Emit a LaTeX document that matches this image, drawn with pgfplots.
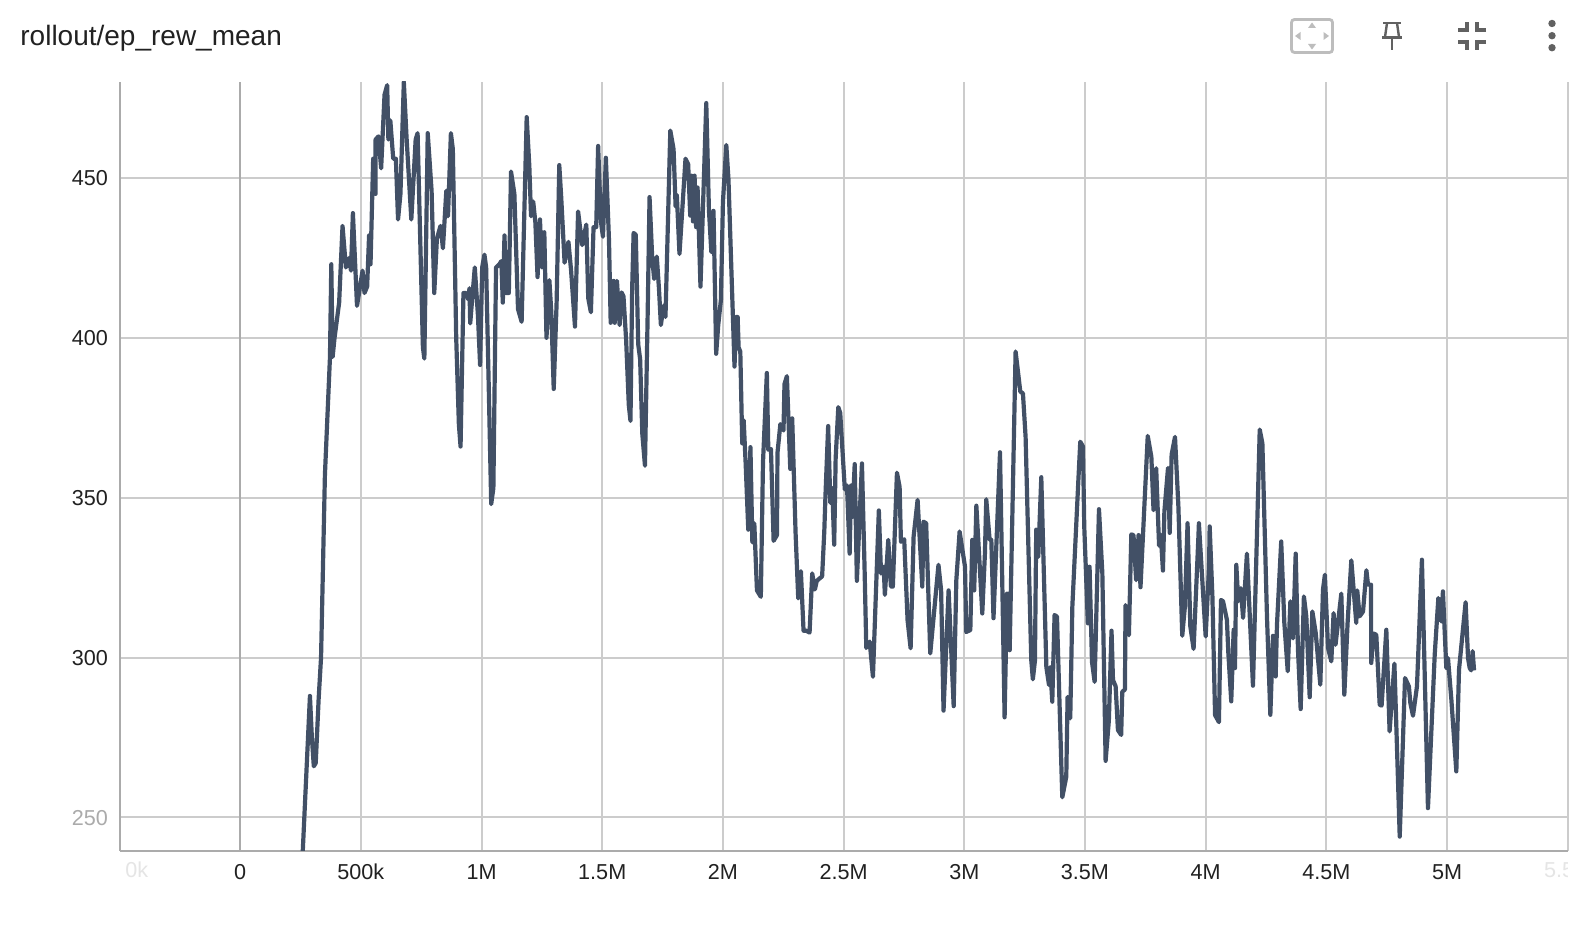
\documentclass[border=0pt]{standalone}
\usepackage{fontspec}
\setmainfont{Liberation Sans}
\usepackage{pgfplots}
\usepackage{pgfplotstable}
\pgfplotsset{compat=1.18}
\definecolor{linecol}{HTML}{425066}
\definecolor{gridcol}{HTML}{CCCCCC}
\definecolor{axiscol}{HTML}{ABABAB}
\definecolor{iconcol}{HTML}{616161}
\definecolor{fitcol}{HTML}{BDBDBD}
\definecolor{txtcol}{HTML}{212121}
\pgfplotstableread{
x y
259 239
289 288
297 275
305 266
313 267
325 287
335 300
351 357
372 394
377.5 423
383 394
391 400
410 411
424 435
438 422
452 425
459 421
467 439
484 410
507 421
515 414
526 416
534 432
540 423
551 456
561 445
561 462
573 463
584 453
598 476
609 479
614 462
622 468
634 456
645 456
654 437
664 445
678 480
689 463
709 437
727 462
735 464
757 397
763 393.5
777 464
793 446
804 414
815 431
830 435
840 428
854 446
861 438
873 464
881 459
895 400
906 373
913 366
925 414
936 414
945 412
950 415.5
953 404.5
961 412
972 422
985 407
994 391.5
1002.6 422
1012 426
1019 422
1030 384
1040 348
1049 353
1060 422
1074 423
1082 424
1088 411
1095 432
1102 414
1113 414
1122 452
1136 445
1151 409
1166 405
1187 469
1198 453.5
1205 438
1214 442.6
1223 436
1232 419
1242 437
1250 422
1260 433
1269 400
1281 418
1289 408
1299 384
1311 411
1322 454
1330 444
1344 423.5
1360 430
1371 421
1387 403.5
1400 439.5
1417 429
1434 435.4
1442 412.4
1453 408
1464 434.6
1475 434.6
1483 460
1494.5 436.4
1503 431.6
1515 456.3
1528 430.4
1535 404.7
1547 417.8
1552 404.7
1561 417.8
1572 404
1580 414.2
1588 413
1599 399.3
1610 379
1617 374
1624 415.4
1630 432.8
1639 432.2
1649 398
1657 393.3
1666 370
1677 360
1688 406.5
1696 444
1707 425
1715 418.4
1726 425.4
1735 415.4
1743 404
1754 410
1762 406.5
1782 464.8
1795.5 459
1804 441
1809 444.7
1820 426.2
1845 456
1856 454.3
1864.6 438.2
1870 450.7
1876 436.4
1882.5 450.7
1889 434.6
1895 447
1907 416
1931 473.4
1942 440
1952 426.8
1961 439.7
1972 395
1980.6 404
1991.6 411.8
2000 442.3
2014 460.3
2023 449.5
2048 391
2055 406.5
2061 406.5
2065 397
2072 395.7
2080 367
2086 374.2
2094 361
2105 340
2114 365.8
2122 336
2130 342
2141 321
2157 319
2166 361
2182 389
2188 365
2199 365.2
2210 336.5
2224 338.3
2226 364
2238 373
2251 371
2255 385.5
2265 388
2279 359
2287 374.8
2301 339
2312 318.5
2323 327
2334 308.4
2345 308.4
2359 307.8
2370 326.3
2381 321.3
2389 324
2411 325.4
2420 339.5
2425 351
2436 372.4
2445 348.4
2453 353
2461 335.3
2467 362.2
2478 378.3
2486 376.5
2505 352.6
2514 353.8
2525 332.5
2531 353.8
2536 344
2546 360.5
2555 324
2576 360.7
2587 327.4
2594 303
2608 305
2621.5 294
2646 346
2655 326.3
2666 328.4
2671 319.6
2685 336.8
2696 322.2
2704 322.2
2721 357.8
2732 353.4
2737.5 336.2
2751 337
2765 311.7
2777.6 302.9
2790 337.8
2806.6 349.3
2826 322.2
2831 342.5
2842 342
2859 301.3
2893 329
2904 321
2914 283.4
2935 321
2956 284.8
2967 324.2
2980.6 339.4
3003 328.4
3008 308
3025 308.6
3033 336.8
3041 321
3050 347.5
3061 332.6
3074.5 313.8
3085.5 332.6
3091 349.5
3105 336.8
3112 336.8
3121 312.3
3148 364.2
3167 281.3
3177 320
3188 302.3
3212.6 395.7
3232 383.2
3243 382.6
3254 369
3277.5 299.2
3284 293.2
3292.7 299
3298 340
3306.5 331.5
3319 356.4
3340 297
3351 291.4
3356 297
3364.5 286.2
3374 313.3
3384 312.8
3406 256.3
3422.5 262.7
3428 287.7
3439 281
3447.7 316
3472 354.5
3480.5 367.5
3491.6 366
3497 341
3512 310.7
3519 328.4
3529 298.7
3540 292.4
3558 346.4
3572 326.3
3585.5 267.7
3599 280.4
3610 308.4
3616 293
3627 291
3636.6 277.3
3650 275.8
3654.5 289.3
3665.6 290
3668 316.4
3682 307
3692 338.5
3701 338.3
3712 324.2
3722 338.3
3730 322
3760 369.3
3775 362.8
3784 346.1
3795 359.2
3807 335
3814 338.4
3823 327.2
3829 345.7
3844 359.3
3851 339
3859 363.5
3873 369
3887 347.3
3903 306.8
3914 316
3925 342
3936.5 309.7
3950 302.7
3970 337.9
3972 342
4000 306.6
4014 328.5
4016.6 341
4028 319
4039 282
4055 279.8
4063.5 318
4072 317.6
4088 311.8
4094 301.4
4106 286.3
4116 308.7
4121.5 296.7
4127 329
4135 317.6
4146 321.7
4155 312.4
4171 332.5
4196 291.2
4224 371.3
4235 367
4254 312.9
4268 282.1
4279 306.8
4290 294.1
4295.5 310.3
4313 336.3
4326 310.8
4340 295.7
4351 317.6
4362 306
4373 332.5
4382.5 302.4
4393.6 283.9
4407 319.1
4417 312.9
4431 287.6
4442 314.4
4456 307.7
4475 291.5
4486 321.2
4494 325.9
4507 303
4520.6 298.8
4530 313.9
4538 304
4562 320
4574.5 288.4
4588 310.8
4603.5 330.4
4624 310.8
4628 321
4638 312.9
4652 314.4
4666 327.3
4672.5 322.8
4685 322.8
4686 298.3
4696 307.5
4707 307.1
4721 285.2
4729 285
4748.5 308.7
4762 276.9
4782 298.1
4804 244
4826 293.6
4842 291
4848 285.8
4859 281.8
4875.5 291
4896 330.6
4921 252.9
4949 300.9
4964 318.6
4976 311.3
4983 320.7
4997 296.7
5004 299.8
5018 286.8
5027.5 276.4
5038.5 264.4
5049.6 296.2
5077 317.3
5087 299.8
5094 296.7
5100 296
5106 302
5112 296
}\rewdata
\begin{document}
\begin{tikzpicture}
\path[use as bounding box,fill=white] (0,0) rectangle (792pt,465pt);
\begin{axis}[
  at={(59.75pt,39.65pt)},anchor=south west,
  scale only axis,
  width=724.1pt,height=384.35pt,
  xmin=-500,xmax=5500,ymin=239.6,ymax=480,
  axis x line*=bottom,axis y line*=left,
  axis line style={axiscol,line width=1pt,-},
  xmajorgrids,ymajorgrids,
  major grid style={gridcol,line width=1pt},
  tick style={draw=none},
  xtick={500,1000,1500,2000,2500,3000,3500,4000,4500,5000,5500},
  xticklabels={500k,1M,1.5M,2M,2.5M,3M,3.5M,4M,4.5M,5M,{}},
  extra x ticks={0},extra x tick labels={0},
  extra x tick style={major grid style={axiscol,line width=1pt}},
  ytick={250,300,350,400,450},
  yticklabels={\textcolor{axiscol}{250},300,350,400,450},
  /pgf/number format/assume math mode=true,
  tick label style={font=\fontsize{10.8pt}{12pt}\selectfont,text=txtcol},
  xticklabel style={yshift=-3pt,text height=7.9pt,text depth=0pt},
  yticklabel style={xshift=-2.3pt,yshift=-0.25pt},
  clip=true,
]
\addplot[linecol,line width=2.1pt,line join=round,no marks] table[x=x,y=y] {\rewdata};
\end{axis}
\begin{scope}[x=0.5pt,y=-0.5pt,shift={(0,465pt)}]
\node[anchor=west,inner sep=0pt,text=txtcol,font=\fontsize{14pt}{16pt}\selectfont] at (20,38) {rollout/ep\_rew\_mean};
% icons
\draw[fitcol,line width=1.4pt,rounded corners=1.5pt] (1291.5,19.5) rectangle (1332.5,52.5);
\fill[fitcol] (1312,22.5) -- (1308,28) -- (1316,28) -- cycle;
\fill[fitcol] (1312,49.5) -- (1308,44) -- (1316,44) -- cycle;
\fill[fitcol] (1295,36) -- (1300.5,32) -- (1300.5,40) -- cycle;
\fill[fitcol] (1329,36) -- (1323.5,32) -- (1323.5,40) -- cycle;
\draw[iconcol,line width=1.2pt] (1383,23) -- (1401,23);
\draw[iconcol,line width=1.2pt] (1387,23) -- (1385,37);
\draw[iconcol,line width=1.2pt] (1397,23) -- (1399,37);
\draw[iconcol,line width=1.2pt] (1382,37.5) -- (1402,37.5);
\draw[iconcol,line width=1.2pt] (1392,37.5) -- (1392,50);
\draw[iconcol,line width=2pt] (1458,30) -- (1467,30) -- (1467,22);
\draw[iconcol,line width=2pt] (1486,30) -- (1477,30) -- (1477,22);
\draw[iconcol,line width=2pt] (1458,42.5) -- (1467,42.5) -- (1467,50);
\draw[iconcol,line width=2pt] (1486,42.5) -- (1477,42.5) -- (1477,50);
\fill[iconcol] (1552,23.5) circle (3.7);
\fill[iconcol] (1552,35.7) circle (3.7);
\fill[iconcol] (1552,47.7) circle (3.7);
\node[text=black!10,font=\fontsize{10.8pt}{12pt}\selectfont,inner sep=0pt,anchor=base west] at (125,877.7) {0k};
\begin{scope}
\clip (119.5,855) rectangle (1567.7,900);
\node[text=black!10,font=\fontsize{10.8pt}{12pt}\selectfont,inner sep=0pt,anchor=base] at (1568,877.7) {5.5M};
\end{scope}
\end{scope}
\end{tikzpicture}
\end{document}
